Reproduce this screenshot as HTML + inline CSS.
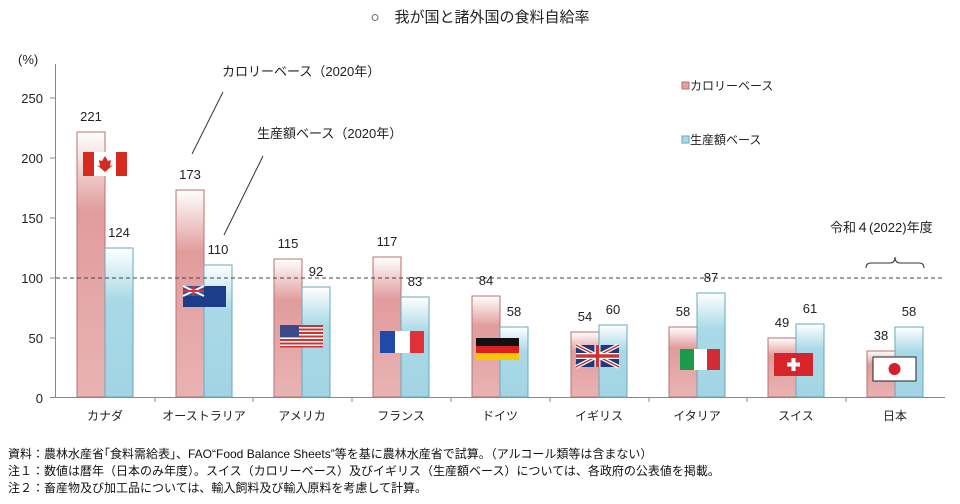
<!DOCTYPE html>
<html><head><meta charset="utf-8"><style>
body{margin:0;background:#fff;width:960px;height:499px;overflow:hidden}
svg{font-family:"Liberation Sans","Noto Sans CJK JP",sans-serif}
</style></head><body>
<svg width="960" height="499" viewBox="0 0 960 499">
<defs>
<linearGradient id="r" x1="0" y1="0" x2="0" y2="1"><stop offset="0" stop-color="#fff"/><stop offset="0.3" stop-color="#e19c9c"/><stop offset="1" stop-color="#e9b3b3"/></linearGradient>
<linearGradient id="b" x1="0" y1="0" x2="0" y2="1"><stop offset="0" stop-color="#fff"/><stop offset="0.35" stop-color="#a9d9e7"/><stop offset="1" stop-color="#a3d4e3"/></linearGradient>
</defs>
<text x="480" y="22" font-size="15" text-anchor="middle" fill="#222">○　我が国と諸外国の食料自給率</text>
<text x="18" y="64" font-size="13" fill="#222">(%)</text>
<g font-size="13" fill="#222" text-anchor="end">
<text x="43" y="103">250</text><text x="43" y="163">200</text><text x="43" y="223">150</text><text x="43" y="283">100</text><text x="43" y="343">50</text><text x="43" y="403">0</text></g>
<line x1="55.5" y1="64" x2="55.5" y2="398" stroke="#888"/>
<g stroke="#888"><line x1="50" y1="98" x2="55" y2="98"/><line x1="50" y1="158" x2="55" y2="158"/><line x1="50" y1="218" x2="55" y2="218"/><line x1="50" y1="278" x2="55" y2="278"/><line x1="50" y1="338" x2="55" y2="338"/></g>
<line x1="50" y1="397.5" x2="945" y2="397.5" stroke="#888"/>
<g stroke="#888">
<line x1="155" y1="397" x2="155" y2="402"/><line x1="253" y1="397" x2="253" y2="402"/><line x1="352" y1="397" x2="352" y2="402"/><line x1="451" y1="397" x2="451" y2="402"/><line x1="550" y1="397" x2="550" y2="402"/><line x1="649" y1="397" x2="649" y2="402"/><line x1="747" y1="397" x2="747" y2="402"/><line x1="846" y1="397" x2="846" y2="402"/></g>
<g stroke-width="1">
<rect x="77" y="132" width="28" height="265" fill="url(#r)" stroke="#b97070"/>
<rect x="105" y="248" width="28" height="149" fill="url(#b)" stroke="#6aa8bb"/>
<rect x="176" y="190" width="28" height="207" fill="url(#r)" stroke="#b97070"/>
<rect x="204" y="265" width="28" height="132" fill="url(#b)" stroke="#6aa8bb"/>
<rect x="274" y="259" width="28" height="138" fill="url(#r)" stroke="#b97070"/>
<rect x="302" y="287" width="28" height="110" fill="url(#b)" stroke="#6aa8bb"/>
<rect x="373" y="257" width="28" height="140" fill="url(#r)" stroke="#b97070"/>
<rect x="401" y="297" width="28" height="100" fill="url(#b)" stroke="#6aa8bb"/>
<rect x="472" y="296" width="28" height="101" fill="url(#r)" stroke="#b97070"/>
<rect x="500" y="327" width="28" height="70" fill="url(#b)" stroke="#6aa8bb"/>
<rect x="571" y="332" width="28" height="65" fill="url(#r)" stroke="#b97070"/>
<rect x="599" y="325" width="28" height="72" fill="url(#b)" stroke="#6aa8bb"/>
<rect x="669" y="327" width="28" height="70" fill="url(#r)" stroke="#b97070"/>
<rect x="697" y="293" width="28" height="104" fill="url(#b)" stroke="#6aa8bb"/>
<rect x="768" y="338" width="28" height="59" fill="url(#r)" stroke="#b97070"/>
<rect x="796" y="324" width="28" height="73" fill="url(#b)" stroke="#6aa8bb"/>
<rect x="867" y="351" width="28" height="46" fill="url(#r)" stroke="#b97070"/>
<rect x="895" y="327" width="28" height="70" fill="url(#b)" stroke="#6aa8bb"/>
</g>
<line x1="56" y1="278" x2="945" y2="278" stroke="#444" stroke-dasharray="4,3"/>
<g font-size="13" fill="#222" text-anchor="middle">
<text x="91" y="121">221</text><text x="119" y="237">124</text>
<text x="190" y="179">173</text><text x="218" y="254">110</text>
<text x="288" y="248">115</text><text x="316" y="276">92</text>
<text x="387" y="246">117</text><text x="415" y="286">83</text>
<text x="486" y="285">84</text><text x="514" y="316">58</text>
<text x="585" y="321">54</text><text x="613" y="314">60</text>
<text x="683" y="316">58</text><text x="711" y="282">87</text>
<text x="782" y="327">49</text><text x="810" y="313">61</text>
<text x="881" y="340">38</text><text x="909" y="316">58</text>
</g>
<g font-size="12" fill="#222" text-anchor="middle">
<text x="105" y="420">カナダ</text><text x="204" y="420">オーストラリア</text><text x="302" y="420">アメリカ</text><text x="401" y="420">フランス</text><text x="500" y="420">ドイツ</text><text x="599" y="420">イギリス</text><text x="697" y="420">イタリア</text><text x="796" y="420">スイス</text><text x="895" y="420">日本</text>
</g>
<rect x="83" y="152" width="44" height="24" fill="#fff"/><rect x="83" y="152" width="11" height="24" fill="#d52b1e"/><rect x="116" y="152" width="11" height="24" fill="#d52b1e"/><path d="M105 156 l3 5 3-1-1 6 3-1-8 7-8-7 3 1-1-6 3 1z" fill="#d52b1e"/>
<rect x="183" y="286" width="43" height="21" fill="#1b3d8a"/><rect x="183" y="286" width="21" height="10" fill="#3a4f9a"/><path d="M183 286l21 10M204 286l-21 10" stroke="#fff" stroke-width="2"/><path d="M193.5 286v10M183 291h21" stroke="#d33" stroke-width="2"/>
<rect x="280" y="325" width="43" height="22" fill="#fff"/><g fill="#c33"><rect x="280" y="325" width="43" height="2"/><rect x="280" y="328.5" width="43" height="2"/><rect x="280" y="332" width="43" height="2"/><rect x="280" y="335.5" width="43" height="2"/><rect x="280" y="339" width="43" height="2"/><rect x="280" y="342.5" width="43" height="2"/><rect x="280" y="346" width="43" height="1.5"/></g><rect x="280" y="325" width="19" height="12" fill="#3c4a8c"/>
<rect x="380" y="331" width="15" height="22" fill="#1f4aa8"/><rect x="395" y="331" width="15" height="22" fill="#fff"/><rect x="410" y="331" width="14" height="22" fill="#e0303a"/>
<rect x="476" y="338" width="43" height="8" fill="#111"/><rect x="476" y="346" width="43" height="7" fill="#dd1f1f"/><rect x="476" y="353" width="43" height="7" fill="#f7c800"/>
<rect x="576" y="345" width="43" height="22" fill="#1e3a7e"/><path d="M576 345l43 22M619 345l-43 22" stroke="#fff" stroke-width="4"/><path d="M576 345l43 22M619 345l-43 22" stroke="#c33" stroke-width="1.5"/><path d="M597.5 345v22M576 356h43" stroke="#fff" stroke-width="6"/><path d="M597.5 345v22M576 356h43" stroke="#c33" stroke-width="3.5"/>
<rect x="680" y="349" width="14" height="21" fill="#1a9a4a"/><rect x="694" y="349" width="13" height="21" fill="#fff"/><rect x="707" y="349" width="13" height="21" fill="#d32b33"/>
<rect x="774" y="353" width="39" height="23" fill="#d8232a"/><path d="M793.5 358v13M787 364.5h13" stroke="#fff" stroke-width="4"/>
<rect x="873" y="357" width="43" height="24" fill="#fff" stroke="#222"/><circle cx="894.5" cy="369" r="6" fill="#d21f2b"/>
<text x="222" y="76" font-size="13" fill="#222">カロリーベース（2020年）</text>
<line x1="223" y1="92" x2="192" y2="154" stroke="#333"/>
<text x="257" y="138" font-size="13" fill="#222">生産額ベース（2020年）</text>
<line x1="263" y1="156" x2="224" y2="235" stroke="#333"/>
<rect x="682" y="82" width="7" height="7" fill="#e3a1a1" stroke="#b97070"/>
<text x="690" y="90" font-size="12" fill="#222">カロリーベース</text>
<rect x="682" y="136" width="7" height="7" fill="#a9d9e7" stroke="#6aa8bb"/>
<text x="690" y="144" font-size="12" fill="#222">生産額ベース</text>
<text x="830" y="232" font-size="13" fill="#222">令和４(2022)年度</text>
<path d="M866 268 q0 -5 5 -5 h19 q5 0 5 -6 q0 6 5 6 h19 q5 0 5 5" fill="none" stroke="#333"/>
<g font-size="12" fill="#111">
<text x="8" y="458">資料：農林水産省｢食料需給表｣、FAO“Food Balance Sheets”等を基に農林水産省で試算。（アルコール類等は含まない）</text>
<text x="8" y="475">注１：数値は暦年（日本のみ年度）。スイス（カロリーベース）及びイギリス（生産額ベース）については、各政府の公表値を掲載。</text>
<text x="8" y="492">注２：畜産物及び加工品については、輸入飼料及び輸入原料を考慮して計算。</text>
</g>
</svg>
</body></html>
